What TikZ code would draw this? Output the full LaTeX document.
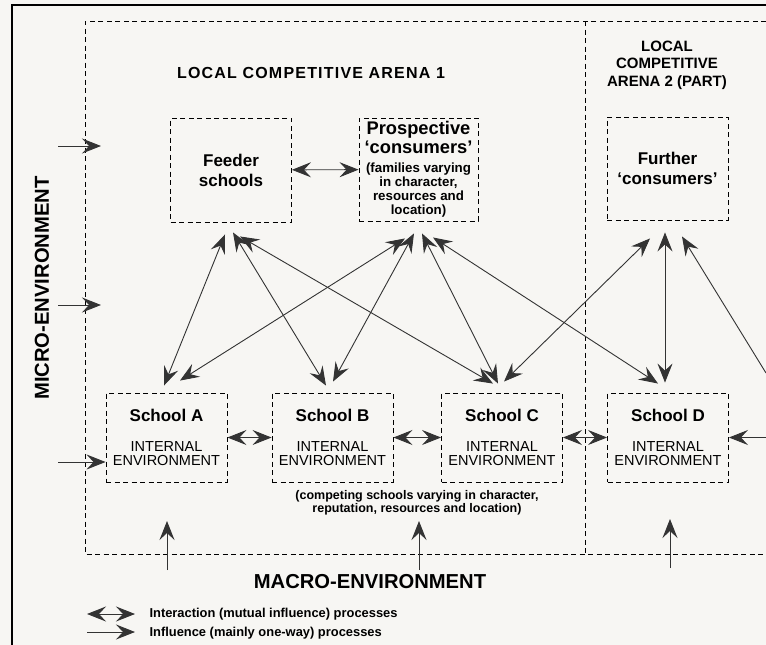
\documentclass[tikz,border=0pt]{standalone}
\usepackage{fontspec}
\setmainfont{Liberation Sans}
\usetikzlibrary{arrows.meta,calc}

\newcommand{\headtxt}{\fontsize{17}{20}\selectfont\bfseries}
\newcommand{\prosptxt}{\fontsize{18.3}{20}\selectfont\bfseries}
\newcommand{\famtxt}{\fontsize{13.3}{14}\selectfont\bfseries}
\newcommand{\envtxt}{\fontsize{14.5}{14}\selectfont}
\newcommand{\arenatxt}{\fontsize{15}{17.5}\selectfont\bfseries}
\newcommand{\titletxt}{\fontsize{16}{18}\selectfont\bfseries\addfontfeature{LetterSpace=7.5}}
\newcommand{\bigtxt}{\fontsize{20.2}{22}\selectfont\bfseries}
\newcommand{\legtxt}{\fontsize{12.9}{14}\selectfont\bfseries}
\newcommand{\comptxt}{\fontsize{12.5}{13}\selectfont\bfseries}
\lineskiplimit=-20pt
\lineskip=0pt

\begin{document}
\begin{tikzpicture}[
    x=1pt, y=-1pt,
    >={Stealth[length=19pt, width=15pt, inset=7pt]},
    box/.style={draw, dash pattern=on 5pt off 3.5pt, line width=0.9pt, rectangle, minimum width=121pt, minimum height=104pt, align=center, inner sep=0pt},
    school/.style={box, minimum height=89pt, font=\envtxt},
    inter/.style={<->, draw=black!80, line width=0.9pt},
    infl/.style={->, draw=black!80, line width=0.9pt},
    arena/.style={draw, dash pattern=on 5pt off 3.5pt, line width=0.9pt}
]

    % paper and frame
    \useasboundingbox[fill={rgb,255:red,247;green,246;blue,243}] (0,0) rectangle (766,645);
    \draw[line width=1.6pt] (12,645) -- (12,5) -- (766,5);

    % arenas
    \draw[arena] (766,21) -| (85,554) -- (766,554);
    \draw[arena] (585,21) -- (585,554);
    \node[font=\titletxt] (arena1) at (311,73) {LOCAL COMPETITIVE ARENA 1};
    \node[font=\arenatxt, align=center] (arena2) at (667,65) {LOCAL\\COMPETITIVE\\ARENA 2 (PART)};

    % consumers and feeders
    \node[box, font=\headtxt] (feeder) at (231,170) {Feeder\\schools};
    \node[box, font=\famtxt, minimum width=119pt, minimum height=103pt] (prosp) at (418.5,169.5) {{\prosptxt Prospective}\\[5pt]{\prosptxt ‘consumers’}\\[5pt](families varying\\in character,\\resources and\\location)};
    \node[box, font=\headtxt, minimum height=103pt] (further) at (667.5,168.5) {Further\\‘consumers’};

    % schools
    \node[school] (schA) at (166.5,437.5) {{\headtxt School A}\\[16pt]INTERNAL\\ENVIRONMENT};
    \node[school] (schB) at (332.5,437.5) {{\headtxt School B}\\[16pt]INTERNAL\\ENVIRONMENT};
    \node[school] (schC) at (502,437.5) {{\headtxt School C}\\[16pt]INTERNAL\\ENVIRONMENT};
    \node[school] (schD) at (668,437.5) {{\headtxt School D}\\[16pt]INTERNAL\\ENVIRONMENT};
    \node[font=\comptxt, align=center] (compete) at (417,503) {(competing schools varying in character,\\reputation, resources and location)};

    % environments
    \node[font=\bigtxt, rotate=90] (micro) at (42,288) {MICRO-ENVIRONMENT};
    \node[font=\bigtxt] (macro) at (370,582) {MACRO-ENVIRONMENT};

    % free ends
    \coordinate (mic1) at (58,146);
    \coordinate (mic1e) at (101,146);
    \coordinate (mic2) at (58,305);
    \coordinate (mic2e) at (101,305);
    \coordinate (mic3) at (58,462);
    \coordinate (mac1) at (167,570);
    \coordinate (mac1e) at (167,521);
    \coordinate (mac2) at (419,570);
    \coordinate (mac2e) at (419,521);
    \coordinate (mac3) at (670,568);
    \coordinate (mac3e) at (670,519);
    \coordinate (eastin) at (766,437.5);
    \coordinate (offpage) at (766,373);

    % interactions
    \draw[inter] (feeder) -- (prosp);
    \draw[inter] (schA) -- (schB);
    \draw[inter] (schB) -- (schC);
    \draw[inter] (schC) -- (schD);
    \draw[inter] ($(feeder.south)+(-6,12)$) -- ($(schA.north)+(-2.5,-7)$);
    \draw[inter] ($(feeder.south)+(2,10)$) -- ($(schB.north)+(-6.5,-7)$);
    \draw[inter] ($(feeder.south)+(9,14)$) -- ($(schC.north)+(-9,-9)$);
    \draw[inter] ($(prosp.south)+(-13.5,17)$) -- ($(schA.north)+(13.5,-12)$);
    \draw[inter] ($(prosp.south)+(-4.5,12)$) -- ($(schB.north)+(0.5,-11)$);
    \draw[inter] ($(prosp.south)+(3.5,12)$) -- ($(schC.north)+(-4,-9)$);
    \draw[inter] ($(prosp.south)+(14.5,16)$) -- ($(schD.north)+(-10,-9)$);
    \draw[inter] ($(further.south)+(-17.5,18)$) -- ($(schC.north)+(2,-11)$);
    \draw[inter] ($(further.south)+(-2.5,12)$) -- ($(schD.north)+(-3,-10)$);
    \draw[infl] (offpage) -- ($(further.south)+(14.5,16)$);

    % influences
    \draw[infl] (mic1) -- (mic1e);
    \draw[infl] (mic2) -- (mic2e);
    \draw[infl] (mic3) -- (schA.west |- mic3);
    \draw[infl] (mac1) -- (mac1e);
    \draw[infl] (mac2) -- (mac2e);
    \draw[infl] (mac3) -- (mac3e);
    \draw[infl] (eastin) -- (schD.east);

    % legend
    \coordinate (lg1) at (87,614);
    \coordinate (lg1e) at (135,614);
    \coordinate (lg2) at (87,632);
    \coordinate (lg2e) at (135,632);
    \draw[inter] (lg1) -- (lg1e);
    \draw[infl] (lg2) -- (lg2e);
    \node[font=\legtxt, anchor=west] (leg1) at (146,614) {Interaction (mutual influence) processes};
    \node[font=\legtxt, anchor=west] (leg2) at (146,633) {Influence (mainly one-way) processes};

\end{tikzpicture}
\end{document}
